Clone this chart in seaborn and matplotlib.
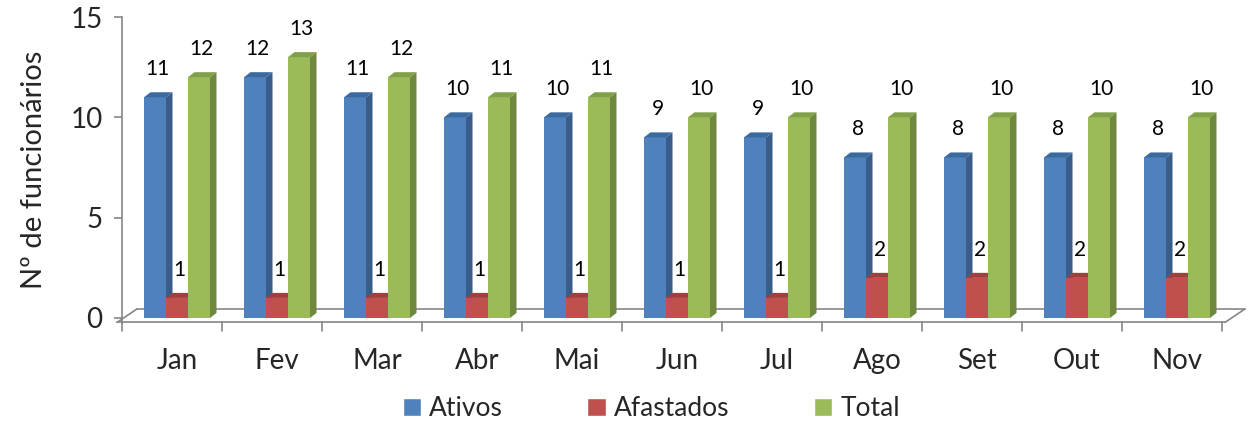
import matplotlib
matplotlib.use("Agg")
import matplotlib.pyplot as plt
from matplotlib.patches import Polygon
import numpy as np
import pandas as pd
import seaborn as sns

meses = ["Jan", "Fev", "Mar", "Abr", "Mai", "Jun", "Jul", "Ago", "Set", "Out", "Nov"]
ativos = [11, 12, 11, 10, 10, 9, 9, 8, 8, 8, 8]
afastados = [1, 1, 1, 1, 1, 1, 1, 2, 2, 2, 2]
total = [12, 13, 12, 11, 11, 10, 10, 10, 10, 10, 10]
series = ["Ativos", "Afastados", "Total"]

colors = ["#4F81BD", "#C0504D", "#9BBB59"]
side_colors = ["#385D8A", "#8C3836", "#71893F"]
top_colors = ["#3D6A9E", "#A0403D", "#80A04A"]
grey = "#868686"

sns.set_style("white")
plt.rcParams["font.family"] = ["Lato", "DejaVu Sans"]

df = pd.DataFrame({
    "Mês": meses * 3,
    "Série": [s for s in series for _ in meses],
    "Valor": ativos + afastados + total,
})

fig = plt.figure(figsize=(12.5, 4.25), dpi=100)
ax = fig.add_axes([0.0976, 0.24, 0.88, 0.72])

sns.barplot(data=df, x="Mês", y="Valor", hue="Série", palette=colors,
            width=0.66, saturation=1, ax=ax, legend=True, zorder=3)

ax.set_xlim(-0.55, 10.45)
ax.set_ylim(-0.25, 15)

# fake 3d depth
dx, dy = 0.065, 0.25
for i, cont in enumerate(ax.containers):
    z = 3 + i * 0.1
    for p in cont.patches:
        x0, w, h = p.get_x(), p.get_width(), p.get_height()
        p.set_edgecolor("none")
        p.set_zorder(z)
        side = Polygon([(x0 + w, 0), (x0 + w + dx, dy), (x0 + w + dx, h + dy), (x0 + w, h)],
                       closed=True, facecolor=side_colors[i], edgecolor="none", zorder=z)
        top = Polygon([(x0, h), (x0 + dx, h + dy), (x0 + w + dx, h + dy), (x0 + w, h)],
                      closed=True, facecolor=top_colors[i], edgecolor="none", zorder=z)
        ax.add_patch(side)
        ax.add_patch(top)
        ax.annotate(f"{int(h)}", (x0 + w / 2, h), xytext=(2, 13), textcoords="offset points",
                    ha="center", va="bottom", fontsize=15, color="#000000", zorder=10)

# floor
n = len(meses)
fx0, fx1 = -0.6, n - 0.52
sx, sy = 0.2, 0.45
fy = -0.22
ax.plot([fx0, fx1], [fy, fy], color=grey, lw=1.2, clip_on=False, zorder=1)
ax.plot([fx0 + sx, fx1 + sx], [sy, sy], color=grey, lw=1.2, clip_on=False, zorder=1)
ax.plot([fx0, fx0 + sx], [fy, sy], color=grey, lw=1.2, clip_on=False, zorder=1)
ax.plot([fx1, fx1 + sx], [fy, sy], color=grey, lw=1.2, clip_on=False, zorder=1)
for b in np.arange(n + 1) - 0.5 - 0.05:
    ax.plot([b, b], [fy, fy - 0.45], color=grey, lw=1.2, clip_on=False, zorder=1)

for s in ["top", "right", "bottom"]:
    ax.spines[s].set_visible(False)
ax.spines["left"].set_color(grey)
ax.spines["left"].set_linewidth(1.2)

ax.set_yticks([0, 5, 10, 15])
ax.tick_params(axis="y", length=6, width=1.2, color=grey, labelsize=20, pad=8, left=True)
ax.tick_params(axis="x", length=0, labelsize=20, pad=18)
ax.set_xlabel("")
ax.set_ylabel("Nº de funcionários", fontsize=21, labelpad=17)

sns.move_legend(ax, "center", bbox_to_anchor=(0.521, 0.038), bbox_transform=fig.transFigure,
                ncol=3, frameon=False, title=None, fontsize=19,
                handlelength=0.7, handleheight=0.7, handletextpad=0.3, columnspacing=3.2)

fig.savefig("out.png", dpi=100)
